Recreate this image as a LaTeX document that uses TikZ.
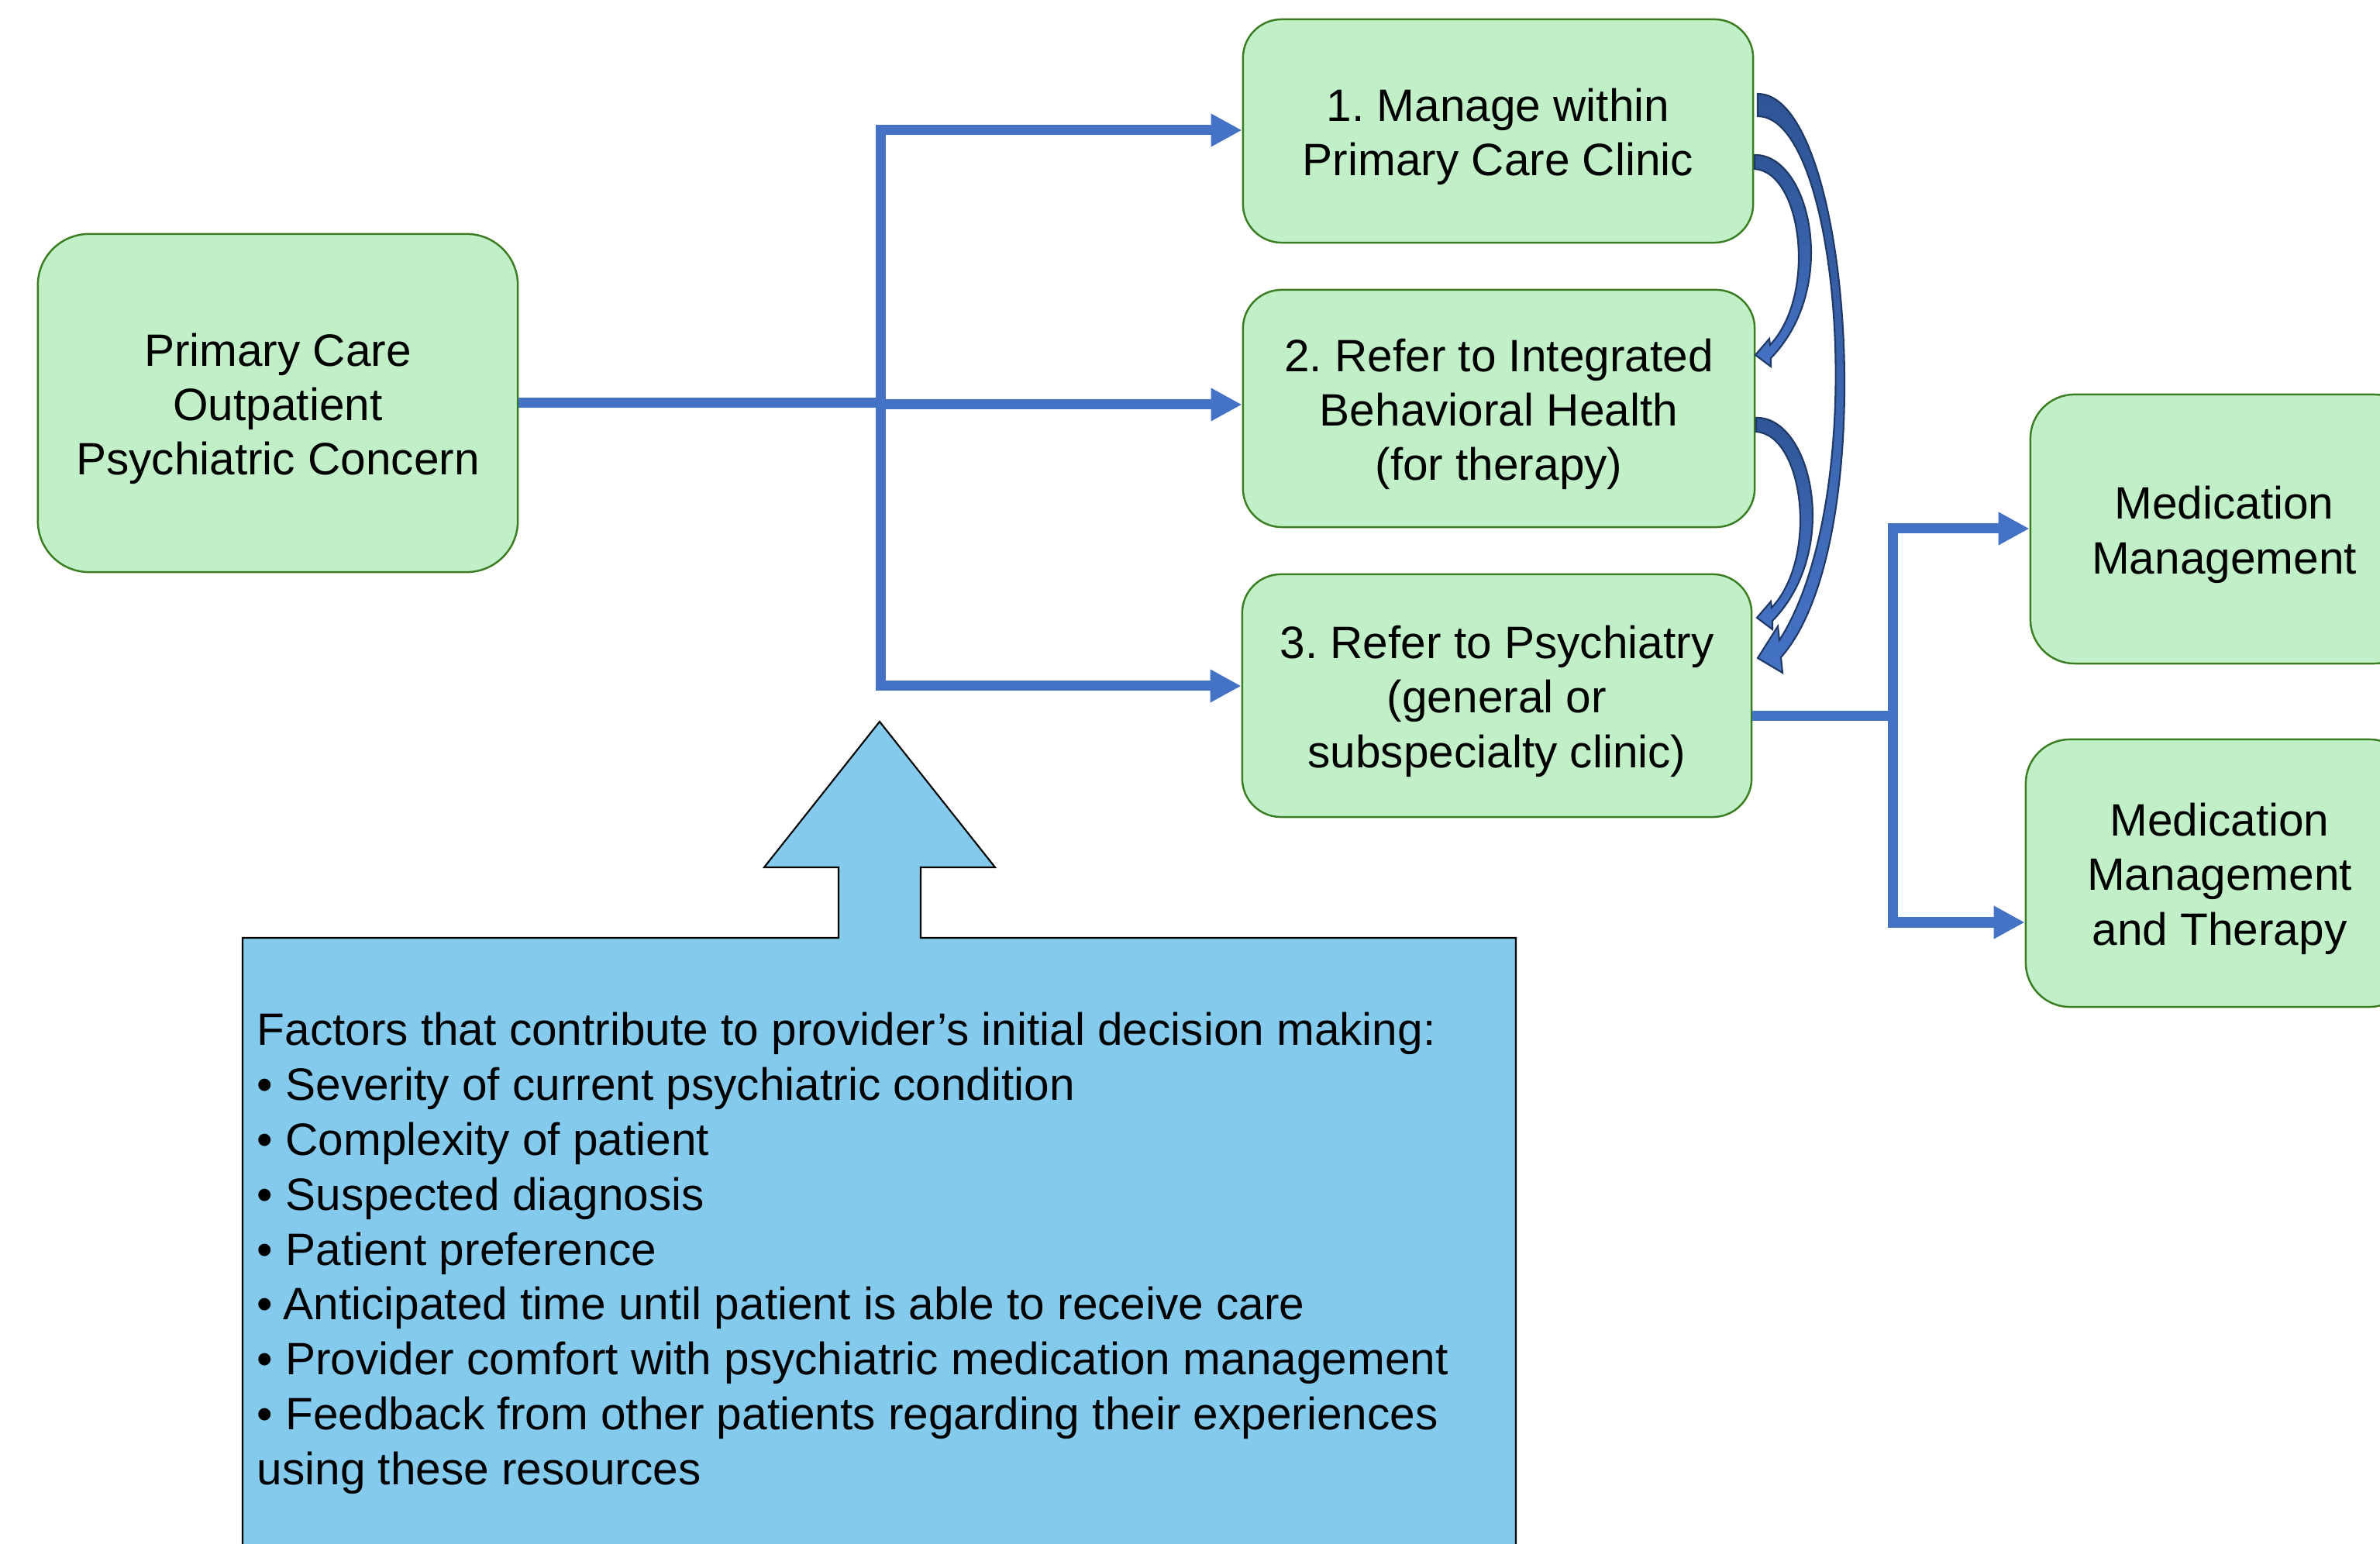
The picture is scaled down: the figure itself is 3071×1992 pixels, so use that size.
\documentclass[tikz,border=0pt]{standalone}
\usepackage{fontspec}
\setmainfont{Liberation Sans}
\usetikzlibrary{arrows.meta}
\frenchspacing
\definecolor{boxgreen}{RGB}{193,240,200}
\definecolor{gline}{RGB}{58,125,34}
\definecolor{lineblue}{RGB}{68,114,196}
\definecolor{factblue}{RGB}{132,202,236}
\definecolor{navyline}{RGB}{31,56,100}
\definecolor{darkblue}{RGB}{47,85,151}
\newcommand\tdown{\rule{0pt}{16.2pt}}
\begin{document}
\begin{tikzpicture}[x=0.01cm,y=-0.01cm,
  gbox/.style={draw=gline, line width=0.7pt, fill=boxgreen, rounded corners=0.5cm,
    align=center, inner sep=0pt, font=\fontsize{16.65}{20}\selectfont},
  conn/.style={draw=lineblue, line width=3.7pt},
  ahead/.style={arrows={-Triangle[length=11.4pt,width=11.4pt]}},
  bhead/.style={arrows={Triangle[length=11.4pt,width=11.4pt]-Triangle[length=11.4pt,width=11.4pt]}},
  curv/.style={draw=navyline, line width=0.6pt, top color=darkblue, bottom color=lineblue, line join=miter},
  factor/.style={inner sep=0pt, anchor=base west, font=\fontsize{16.65}{20}\selectfont}]
\useasboundingbox (0,0) rectangle (3071,1992);
\clip (0,0) rectangle (3071,1992);

% green boxes
\node[gbox, minimum width=6.19cm, minimum height=4.36cm, rounded corners=0.66cm] (pc) at (358.5,520)
  {\tdown Primary Care\\Outpatient\\Psychiatric Concern};
\node[gbox, minimum width=6.58cm, minimum height=2.88cm] (b1) at (1933,169)
  {\tdown 1. Manage within\\Primary Care Clinic};
\node[gbox, minimum width=6.60cm, minimum height=3.06cm] (b2) at (1934,527)
  {\tdown 2. Refer to Integrated\\Behavioral Health\\(for therapy)};
\node[gbox, minimum width=6.57cm, minimum height=3.13cm] (b3) at (1931.5,897.5)
  {\tdown 3. Refer to Psychiatry\\(general or\\subspecialty clinic)};
\node[gbox, minimum width=5.00cm, minimum height=3.47cm, rounded corners=0.57cm] (m1) at (2870,682.5)
  {\tdown Medication\\Management};
\node[gbox, minimum width=5.00cm, minimum height=3.45cm, rounded corners=0.57cm] (m2) at (2864,1126.5)
  {\tdown Medication\\Management\\and Therapy};

% connector tree from primary care
\coordinate (j0) at (1136,520);
\coordinate (j1) at (1136,168);
\coordinate (j2) at (1136,522);
\coordinate (j3) at (1136,885);
\draw[conn] (pc.east |- j0) -- (j0);
\draw[conn, bhead] (b1.west |- j1) -- (j1) -- (j3) -- (b3.west |- j3);
\draw[conn, ahead] (j2) -- (b2.west |- j2);

% connector tree from psychiatry
\coordinate (k0) at (2442,924);
\coordinate (k1) at (2442,682);
\coordinate (k2) at (2442,1190);
\draw[conn] (b3.east |- k0) -- (k0);
\draw[conn, bhead] (m1.west |- k1) -- (k1) -- (k2) -- (m2.west |- k2);

% curved block arrows
\path[curv] (2264,200) .. controls (2335,198) and (2375,370) .. (2285,462)
  -- (2285,473) -- (2265,458) -- (2283,437) -- (2284,445)
  .. controls (2345,380) and (2325,222) .. (2264,218) -- cycle;
\path[curv] (2266,539) .. controls (2337,537) and (2377,709) .. (2287,801)
  -- (2287,812) -- (2267,797) -- (2285,776) -- (2286,784)
  .. controls (2347,719) and (2327,561) .. (2266,557) -- cycle;
\path[curv] (2268,121) .. controls (2390,121) and (2430,700) .. (2298,848)
  -- (2300,868) -- (2268,849) -- (2294,808) -- (2296,826)
  .. controls (2415,640) and (2375,150) .. (2268,150) -- cycle;

% factors box with upward arrow
\path[draw=black, line width=0.6pt, fill=factblue, line join=miter]
  (313,2060) -- (313,1210) -- (1082,1210) -- (1082,1119) -- (986,1119) -- (1135,931)
  -- (1284,1119) -- (1188,1119) -- (1188,1210) -- (1956,1210) -- (1956,2060) -- cycle;

\foreach \t [count=\i] in {
  Factors that contribute to provider’s initial decision making:,
  • Severity of current psychiatric condition,
  • Complexity of patient,
  • Suspected diagnosis,
  • Patient preference,
  •\kern3.8pt Anticipated time until patient is able to receive care,
  • Provider comfort with psychiatric medication management,
  • Feedback from other patients regarding their experiences,
  using these resources}
  \node[factor] (f\i) at ({331},{1349+70.8*(\i-1)}) {\t};
\end{tikzpicture}
\end{document}
